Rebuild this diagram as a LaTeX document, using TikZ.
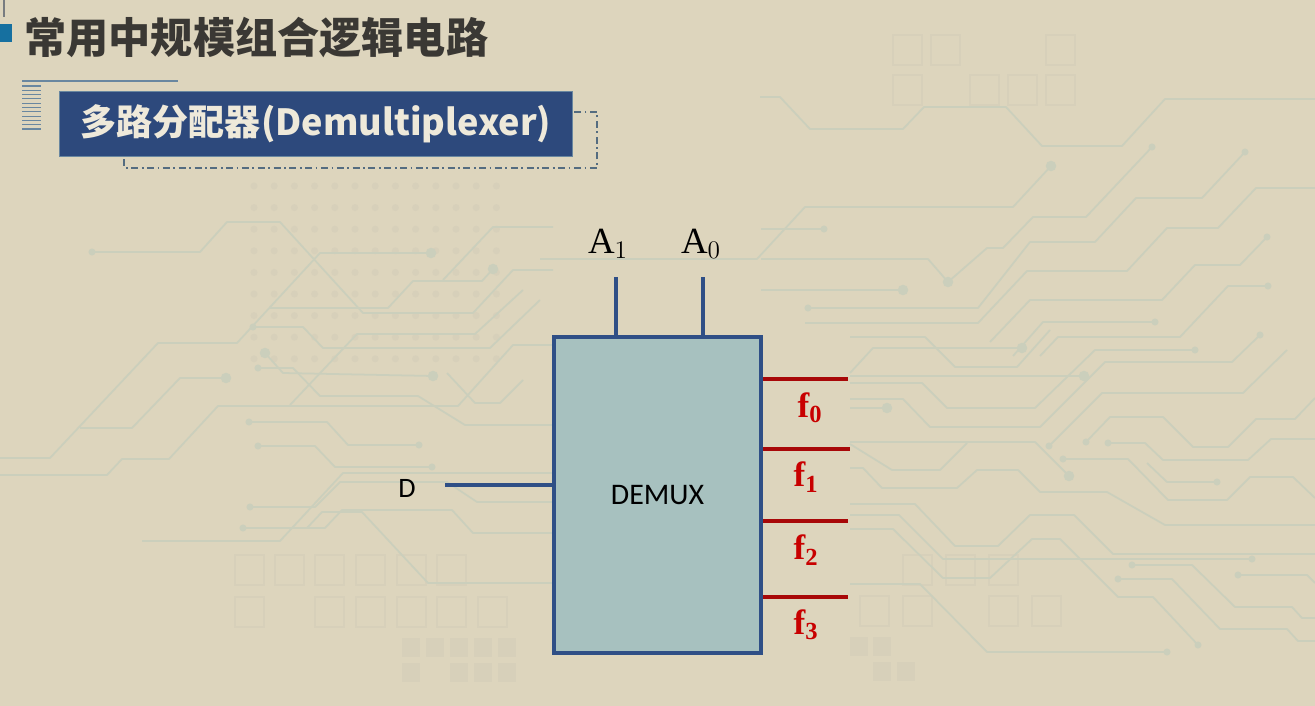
\documentclass[tikz,border=0pt]{standalone}
\usepackage{fontspec}
\setmainfont{Liberation Serif}
\setsansfont{Carlito}
\newfontfamily\cjk{Noto Sans CJK SC}
\usetikzlibrary{positioning}
\definecolor{DmxBg}{RGB}{221,213,189}
\definecolor{DmxTrace}{RGB}{203,207,188}
\definecolor{DmxFaint}{RGB}{215,208,186}
\definecolor{DmxInk}{RGB}{58,56,52}
\definecolor{DmxNavy}{RGB}{45,73,124}
\definecolor{DmxEdge}{RGB}{47,79,134}
\definecolor{DmxFill}{RGB}{167,193,191}
\definecolor{DmxWireRed}{RGB}{168,8,8}
\definecolor{DmxRed}{RGB}{200,0,0}
\definecolor{DmxSteel}{RGB}{105,135,160}
\definecolor{DmxAccent}{RGB}{22,112,160}
\definecolor{DmxCream}{RGB}{238,233,218}
\definecolor{DmxGray}{RGB}{120,124,128}
\tikzset{
  dmx/trace/.style={draw=DmxTrace, line width=1pt, line join=round},
  dmx/cell/.style={draw=DmxFaint, line width=0.7pt},
  dmx/title/.style={
    font=\cjk\bfseries\fontsize{24}{28}\selectfont,
    text=DmxInk,
    inner sep=0pt
  },
  dmx/banner/.style={
    draw=DmxSteel,
    thin,
    fill=DmxNavy,
    text=DmxCream,
    minimum width=10.26cm,
    minimum height=1.3cm,
    font=\cjk\bfseries\fontsize{20.5}{24}\selectfont
  },
  dmx/dashframe/.style={draw=DmxSteel!80!black, line width=0.9pt, dash pattern=on 4pt off 2pt on 1pt off 2pt},
  dmx/block/.style={
    draw=DmxEdge,
    line width=2.3pt,
    fill=DmxFill,
    minimum width=4.14cm,
    minimum height=6.32cm,
    font=\sffamily\fontsize{17}{20}\selectfont,
    text=black
  },
  dmx/wire/.style={draw=DmxEdge, line width=2.3pt},
  dmx/outwire/.style={draw=DmxWireRed, line width=2pt},
  dmx/addr/.style={font=\fontsize{21}{25}\selectfont, text=black, inner sep=0pt},
  dmx/input/.style={font=\sffamily\fontsize{16}{19}\selectfont, text=black, inner sep=0pt},
  dmx/output/.style={font=\fontsize{20}{24}\selectfont, text=DmxRed, inner sep=0pt}
}
\begin{document}
\begin{tikzpicture}[x=0.02cm,y=-0.02cm]
  \fill[DmxBg] (0,0) rectangle (1315,706);
  \useasboundingbox (0,0) rectangle (1315,706);
  % background circuit pattern
  \foreach \c in {0,...,12}
    \foreach \r in {0,...,8}
      \fill[DmxFaint] (254+20.2*\c,186+21.6*\r) circle (2pt);
  \foreach \px/\py in {235/555,275/555,315/555,356/555,397/555,437/555,
                       235/597,315/597,356/597,397/597,437/597,478/597,
                       893/35,931/35,1046/35,893/75,970/75,1008/75,1046/75,
                       903/555,946/555,989/555,860/596,903/596,989/596,1032/596}
    \draw[dmx/cell] (\px,\py) rectangle ++(29,30);
  \foreach \px/\py in {402/638,426/638,450/638,474/638,498/638,402/663,450/663,474/663,498/663,
                       850/637,873/637,873/662,897/662}
    \fill[DmxFaint] (\px,\py) rectangle ++(18,19);
  \draw[dmx/trace] (92,252) -- (200,252) -- (227,222) -- (280,222) -- (363,313) -- (473,313) -- (513,270) -- (553,270);
  \draw[dmx/trace] (0,458) -- (50,458) -- (158,343) -- (237,343) -- (320,253) -- (431,253);
  \draw[dmx/trace] (0,475) -- (107,475) -- (122,459) -- (169,459) -- (218,406) -- (458,406) -- (513,345) -- (553,345);
  \draw[dmx/trace] (80,428) -- (132,428) -- (180,378) -- (226,378);
  \draw[dmx/trace] (253,327) -- (303,327) -- (323,348) -- (490,348) -- (540,300);
  \draw[dmx/trace] (270,308) -- (388,308) -- (413,281) -- (482,281) -- (493,269);
  \draw[dmx/trace] (443,280) -- (493,227) -- (553,227);
  \draw[dmx/trace] (265,353) -- (283,373) -- (433,376);
  \draw[dmx/trace] (258,368) -- (293,368) -- (320,396) -- (418,396) -- (465,425) -- (553,425);
  \draw[dmx/trace] (290,405) -- (357,334) -- (475,334) -- (523,290);
  \draw[dmx/trace] (447,373) -- (475,403) -- (500,403) -- (523,380);
  \draw[dmx/trace] (249,422) -- (327,422) -- (348,445) -- (419,445);
  \draw[dmx/trace] (258,446) -- (315,446) -- (335,467) -- (432,467);
  \draw[dmx/trace] (142,541) -- (280,541) -- (343,473) -- (553,473);
  \draw[dmx/trace] (250,507) -- (315,507) -- (340,482) -- (447,482) -- (477,502) -- (553,502);
  \draw[dmx/trace] (243,528) -- (325,528) -- (342,510) -- (452,510) -- (473,533) -- (553,533);
  \draw[dmx/trace] (307,528) -- (322,512) -- (362,512) -- (428,583) -- (553,583);
  \draw[dmx/trace] (540,259) -- (757,259) -- (805,207) -- (1013,207) -- (1051,166);
  \draw[dmx/trace] (760,97) -- (780,97) -- (810,129) -- (903,129) -- (924,107) -- (1006,107) -- (1042,146) -- (1122,146) -- (1165,99) -- (1315,99);
  \draw[dmx/trace] (1152,147) -- (1086,217) -- (1033,217) -- (1003,248) -- (987,248) -- (948,282);
  \draw[dmx/trace] (1245,152) -- (1202,198) -- (1136,198) -- (1095,242) -- (1030,242) -- (978,308) -- (808,308);
  \draw[dmx/trace] (1315,188) -- (1256,188) -- (1218,228) -- (1167,228) -- (1127,271) -- (1027,271) -- (978,323) -- (805,323);
  \draw[dmx/trace] (1267,237) -- (1240,265) -- (1195,265) -- (1162,300) -- (1030,300) -- (990,342);
  \draw[dmx/trace] (1268,286) -- (1228,286) -- (1180,337) -- (1058,337) -- (1040,356);
  \draw[dmx/trace] (1155,322) -- (1043,322) -- (1013,356);
  \draw[dmx/trace] (761,229) -- (824,229);
  \draw[dmx/trace] (761,259) -- (928,259) -- (948,282);
  \draw[dmx/trace] (761,290) -- (903,290);
  \draw[dmx/trace] (850,373) -- (873,348) -- (1022,348);
  \draw[dmx/trace] (850,376) -- (1084,376);
  \draw[dmx/trace] (850,408) -- (887,408);
  \draw[dmx/trace] (850,442) -- (1035,442) -- (1069,476);
  \draw[dmx/trace] (850,399) -- (903,399) -- (930,427) -- (1040,427) -- (1105,362) -- (1232,362) -- (1260,335);
  \draw[dmx/trace] (850,383) -- (922,383) -- (947,408) -- (1035,408) -- (1095,350) -- (1195,350);
  \draw[dmx/trace] (850,337) -- (925,337) -- (955,367) -- (1017,367) -- (1050,330);
  \draw[dmx/trace] (1049,446) -- (1102,393) -- (1243,393) -- (1287,350);
  \draw[dmx/trace] (1086,442) -- (1110,417) -- (1163,417) -- (1193,447) -- (1228,447) -- (1256,419) -- (1295,419) -- (1315,398);
  \draw[dmx/trace] (1108,443) -- (1145,443) -- (1163,460) -- (1248,460) -- (1271,439) -- (1315,439);
  \draw[dmx/trace] (1063,459) -- (1128,459) -- (1168,500) -- (1227,500) -- (1250,477) -- (1293,477) -- (1315,498);
  \draw[dmx/trace] (1147,463) -- (1167,482) -- (1217,482);
  \draw[dmx/trace] (850,468) -- (863,468) -- (882,488) -- (957,488) -- (977,470) -- (1018,470) -- (1040,492) -- (1107,492) -- (1165,525) -- (1315,525);
  \draw[dmx/trace] (850,444) -- (892,470) -- (940,470) -- (967,443);
  \draw[dmx/trace] (850,504) -- (915,504) -- (955,546) -- (998,546) -- (1030,515) -- (1074,515) -- (1113,554) -- (1315,554);
  \draw[dmx/trace] (850,515) -- (899,515) -- (943,559) -- (1252,559);
  \draw[dmx/trace] (850,529) -- (893,529) -- (943,578) -- (990,578) -- (1032,539) -- (1060,539) -- (1118,597) -- (1153,597) -- (1198,645);
  \draw[dmx/trace] (850,584) -- (920,584) -- (987,652) -- (1167,652);
  \draw[dmx/trace] (1132,565) -- (1192,565) -- (1235,607) -- (1292,607) -- (1302,618) -- (1315,618);
  \draw[dmx/trace] (1118,579) -- (1172,579) -- (1220,629) -- (1287,629) -- (1298,641) -- (1315,641);
  \draw[dmx/trace] (1238,575) -- (1307,575) -- (1315,583);
  \foreach \px/\py/\rad in {92/252/2, 431/253/3, 226/378/3, 253/327/2, 493/269/3, 265/353/3, 433/376/3,
                            258/368/2, 249/422/2, 419/445/2, 258/446/2, 432/467/2, 250/507/2, 243/528/2,
                            1051/166/3, 1152/147/2, 1245/152/2, 1267/237/2, 1268/286/2, 1155/322/2,
                            824/229/2, 948/282/3, 903/290/3, 808/308/2, 1022/348/3, 1084/376/3, 887/408/3,
                            1069/476/3, 1260/335/2, 1195/350/2, 1049/446/2, 1086/442/2, 1108/443/2,
                            1063/459/2, 1217/482/2, 1252/559/2, 1198/645/2, 1167/652/2, 1132/565/2,
                            1118/579/2, 1238/575/2}
    \fill[DmxTrace] (\px,\py) circle (\rad pt);
  % heading
  \draw[DmxGray, line width=0.8pt] (4,0) -- (4,17);
  \fill[DmxAccent] (0,24) rectangle (12,42);
  \node[dmx/title, anchor=base west] (title) at (24,54) {常用中规模组合逻辑电路};
  \draw[DmxSteel, line width=1pt] (22,81) -- (178,81);
  \foreach \i in {0,...,10}
    \draw[DmxSteel, line width=0.6pt] (22,86+4.3*\i) -- (41,86+4.3*\i);
  \draw[dmx/dashframe] (124,112) rectangle (597,168);
  \node[dmx/banner] (banner) at (316,124) {多路分配器(Demultiplexer)};
  % demux block
  \node[dmx/block] (demux) at (657.5,495) {DEMUX};
  \coordinate (a1top) at (616,277);
  \coordinate (a0top) at (703,277);
  \coordinate (din) at (445,485);
  \coordinate (f0end) at (848,379);
  \coordinate (f1end) at (850,449);
  \coordinate (f2end) at (848,521);
  \coordinate (f3end) at (848,597);
  \draw[dmx/wire] (a1top) -- (a1top |- demux.north);
  \draw[dmx/wire] (a0top) -- (a0top |- demux.north);
  \draw[dmx/wire] (din) -- (din -| demux.west);
  \draw[dmx/outwire] (f0end -| demux.east) -- (f0end);
  \draw[dmx/outwire] (f1end -| demux.east) -- (f1end);
  \draw[dmx/outwire] (f2end -| demux.east) -- (f2end);
  \draw[dmx/outwire] (f3end -| demux.east) -- (f3end);
  % labels
  \node[dmx/addr] (lblA1) at (608,244) {$\mathrm{A}_{1}$};
  \node[dmx/addr] (lblA0) at (701,244) {$\mathrm{A}_{0}$};
  \node[dmx/input] (lblD) at (407,488) {D};
  \node[dmx/output] (lblf0) at (810,408) {$\mathbf{f_{0}}$};
  \node[dmx/output] (lblf1) at (806,477) {$\mathbf{f_{1}}$};
  \node[dmx/output] (lblf2) at (806,550) {$\mathbf{f_{2}}$};
  \node[dmx/output] (lblf3) at (806,625) {$\mathbf{f_{3}}$};
\end{tikzpicture}
\end{document}
